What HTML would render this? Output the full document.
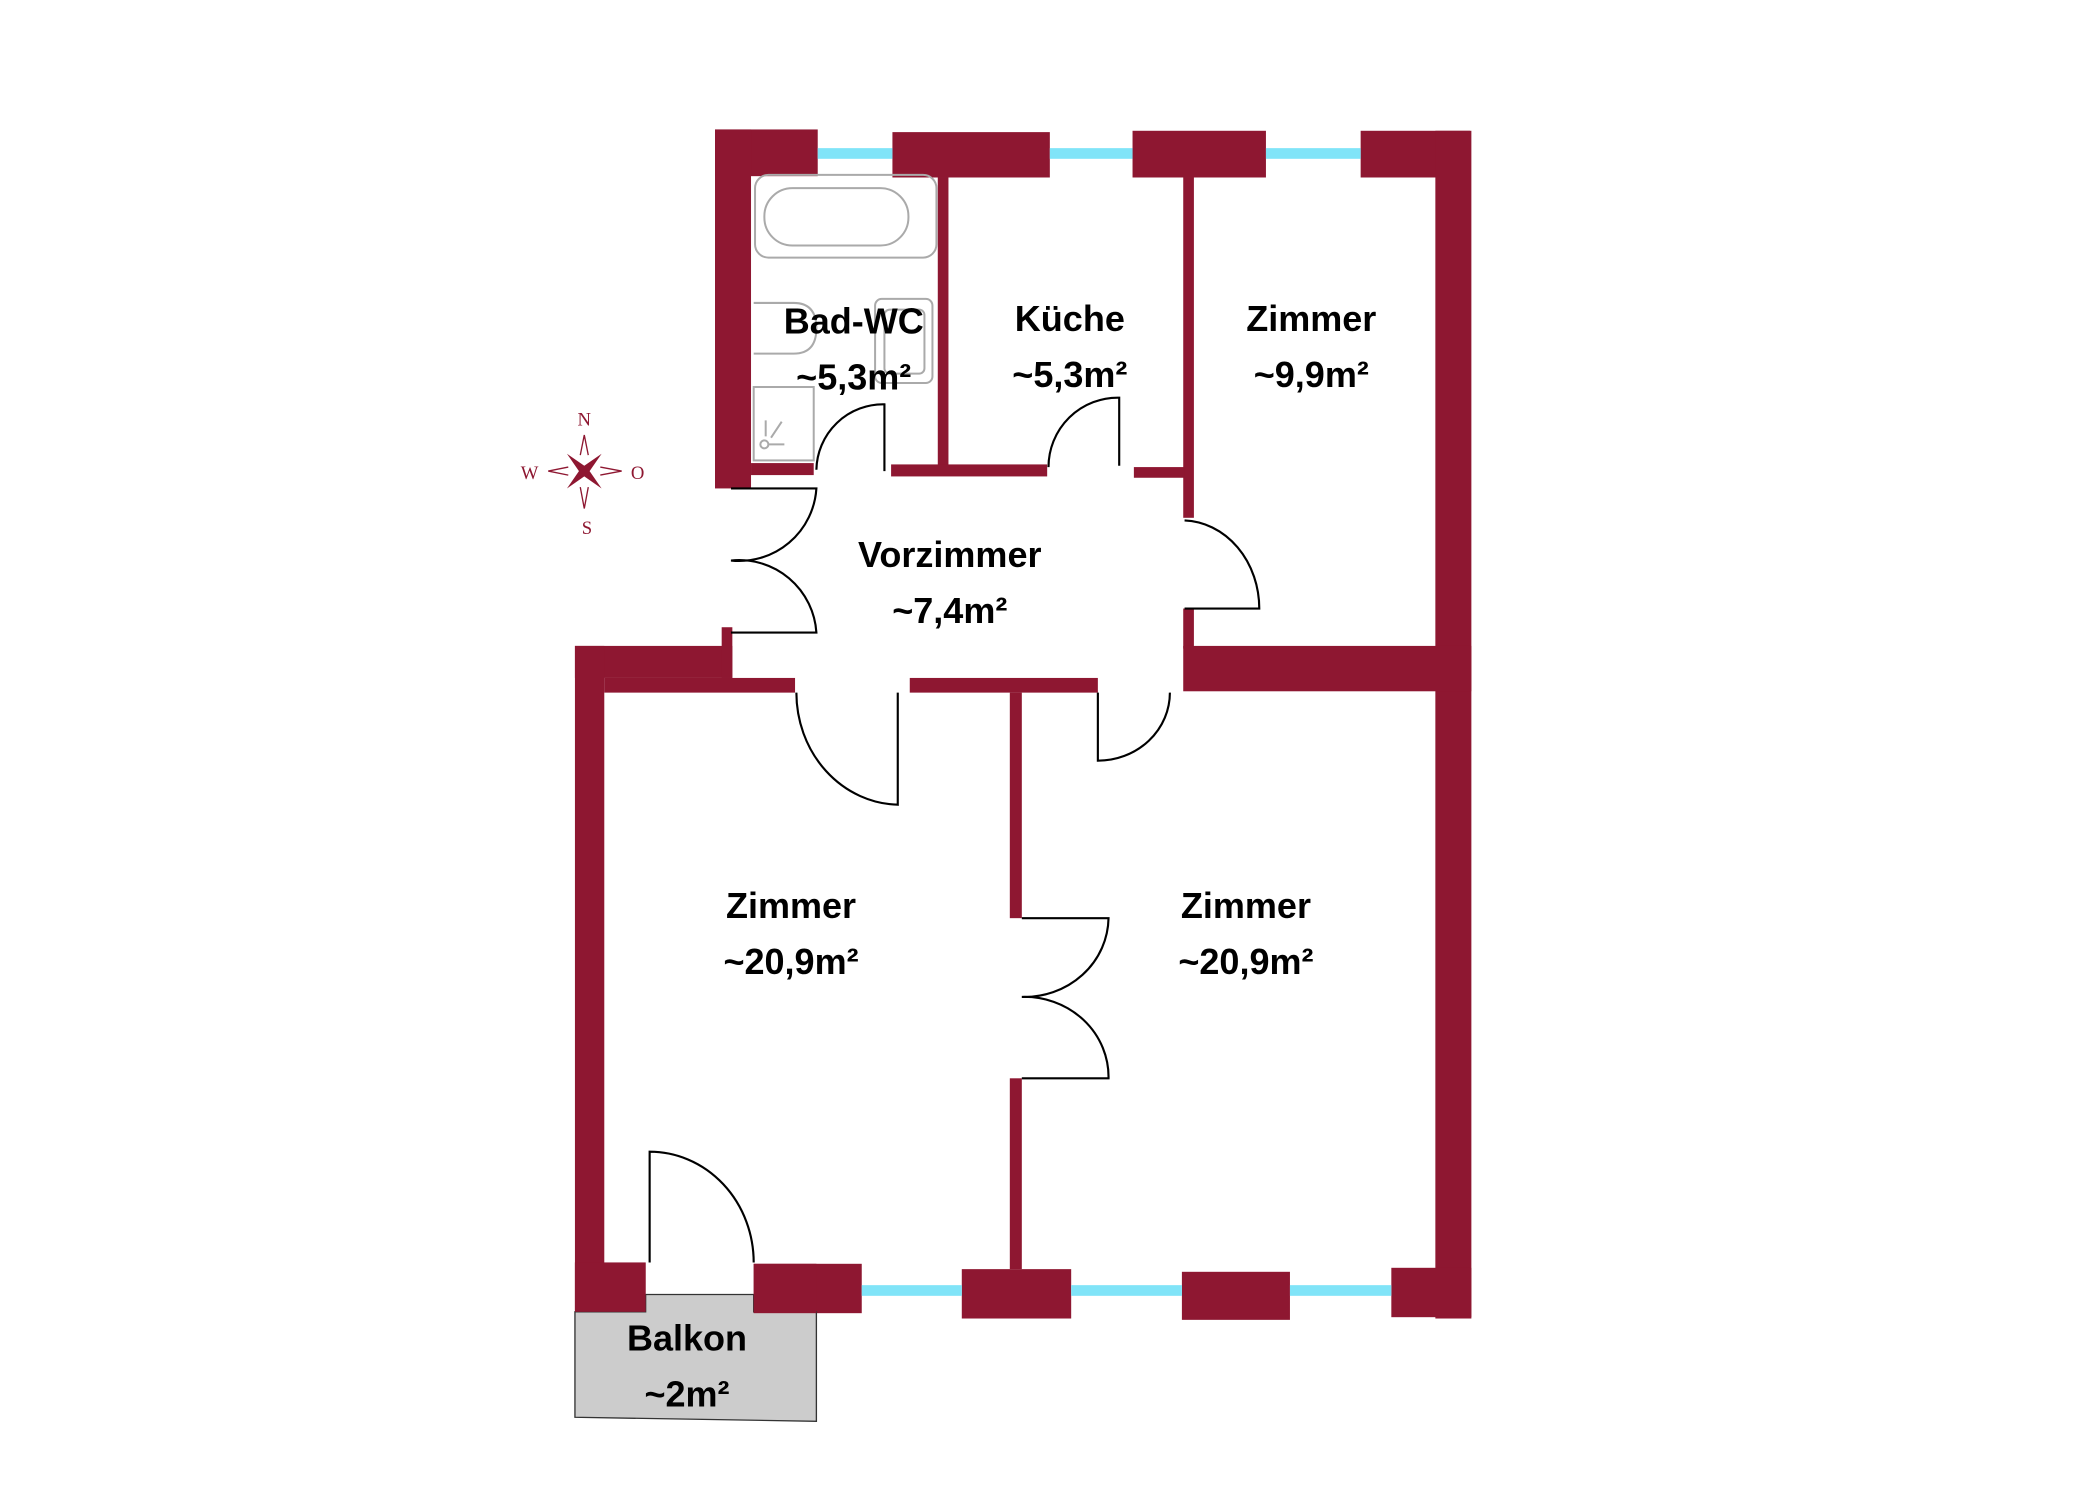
<!DOCTYPE html>
<html><head><meta charset="utf-8"><style>
html,body{margin:0;padding:0;background:#fff}
svg{display:block}
text{font-family:"Liberation Sans",sans-serif;font-weight:bold;font-size:27px;fill:#000;text-anchor:middle}
</style></head><body>
<svg width="2089" height="1488" viewBox="0 0 1566 1115" preserveAspectRatio="none">
<g fill="#8e1731">
<!-- top -->
<rect x="536" y="97" width="77" height="35"/>
<rect x="536" y="97" width="27" height="269"/>
<rect x="669" y="99" width="118" height="34"/>
<rect x="849" y="98" width="100" height="35"/>
<rect x="1020" y="98" width="82" height="35"/>
<rect x="1076" y="98" width="27" height="890"/>
<!-- partitions -->
<rect x="703" y="133" width="8" height="222"/>
<rect x="887" y="133" width="8" height="255"/>
<rect x="563" y="347" width="47" height="9"/>
<rect x="668" y="348" width="117" height="9"/>
<rect x="850" y="350" width="38" height="8"/>
<rect x="887" y="456" width="8" height="30"/>
<rect x="887" y="484" width="216" height="34"/>
<!-- lower left -->
<rect x="431" y="484" width="118" height="24"/>
<rect x="541" y="470" width="8" height="38"/>
<rect x="453" y="508" width="143" height="11"/>
<rect x="431" y="484" width="22" height="498"/>
<rect x="682" y="508" width="141" height="11"/>
<rect x="757" y="519" width="9" height="169"/>
<rect x="757" y="808" width="9" height="143"/>
<!-- bottom -->
<rect x="431" y="946" width="53" height="36"/>
<rect x="565" y="947" width="81" height="37"/>
<rect x="721" y="951" width="82" height="37"/>
<rect x="886" y="953" width="81" height="36"/>
<rect x="1043" y="950" width="60" height="37"/>
</g>
<g fill="#80e4f8">
<rect x="613" y="111" width="56" height="8"/>
<rect x="787" y="111" width="62" height="8"/>
<rect x="949" y="111" width="71" height="8"/>
<rect x="646" y="963" width="75" height="8"/>
<rect x="803" y="963" width="83" height="8"/>
<rect x="967" y="963" width="76" height="8"/>
</g>
<!-- balcony -->
<polygon points="431,983 431,1062 612,1065 612,983 565,983 565,970 484,970 484,983" fill="#cccccc" stroke="#333" stroke-width="1"/>
<rect x="431" y="946" width="53" height="37" fill="#8e1731"/>
<rect x="565" y="947" width="47" height="37" fill="#8e1731"/>
<!-- bath fixtures -->
<g fill="none" stroke="#aaa" stroke-width="1.5">
<rect x="566" y="131" width="136" height="62" rx="10"/>
<rect x="573" y="141" width="108" height="43" rx="21"/>
<path d="M565,227 L595,227 Q612,227 612,246 Q612,265 595,265 L565,265"/>
<rect x="656" y="224" width="43" height="63" rx="5"/>
<rect x="663" y="232" width="30" height="48" rx="4"/>
<rect x="565" y="290" width="45" height="55"/>
<path d="M574,315 v12 M578,328 l8,-12 M576,333 h12"/>
<circle cx="573" cy="333" r="3"/>
</g>
<!-- doors -->
<g fill="none" stroke="#000" stroke-width="1.6">
<path d="M663,353 V303 A50,50 0 0 0 612,352"/>
<path d="M839,349 V298 A52,52 0 0 0 786,350"/>
<path d="M548,366 H612 A58,58 0 0 1 548,420 A58,58 0 0 1 612,474 H548"/>
<path d="M888,456 H944 A58,66 0 0 0 888,390"/>
<path d="M673,519 V603 A78,84 0 0 1 597,519"/>
<path d="M823,519 V570 A54,51 0 0 0 877,519"/>
<path d="M766,688 H831 A63,60 0 0 1 766,747 A63,60 0 0 1 831,808 H766"/>
<path d="M487,946 V863 A78,83 0 0 1 565,946"/>
</g>
<!-- compass -->
<g fill="#8e1731" font-family="Liberation Serif,serif">
<path d="M438,353 m-13,-13 l13,9 l13,-9 l-9,13 l9,13 l-13,-9 l-13,9 l9,-13z"/>
<path d="M435,341 L438,326 L441,341 M435,365 L438,381 L441,365 M426,350 L411,353 L426,356 M450,350 L466,353 L450,356" fill="none" stroke="#8e1731" stroke-width="1"/>
<text x="438" y="319" style="font-family:'Liberation Serif',serif;font-weight:normal;font-size:14px;fill:#8e1731">N</text>
<text x="440" y="400" style="font-family:'Liberation Serif',serif;font-weight:normal;font-size:14px;fill:#8e1731">S</text>
<text x="397" y="359" style="font-family:'Liberation Serif',serif;font-weight:normal;font-size:14px;fill:#8e1731">W</text>
<text x="478" y="359" style="font-family:'Liberation Serif',serif;font-weight:normal;font-size:14px;fill:#8e1731">O</text>
</g>
<!-- labels -->
<text x="640" y="250">Bad-WC</text><text x="640" y="292">~5,3m²</text>
<text x="802" y="248">Küche</text><text x="802" y="290">~5,3m²</text>
<text x="983" y="248">Zimmer</text><text x="983" y="290">~9,9m²</text>
<text x="712" y="425">Vorzimmer</text><text x="712" y="467">~7,4m²</text>
<text x="593" y="688">Zimmer</text><text x="593" y="730">~20,9m²</text>
<text x="934" y="688">Zimmer</text><text x="934" y="730">~20,9m²</text>
<text x="515" y="1012">Balkon</text><text x="515" y="1054">~2m²</text>
</svg>
</body></html>
